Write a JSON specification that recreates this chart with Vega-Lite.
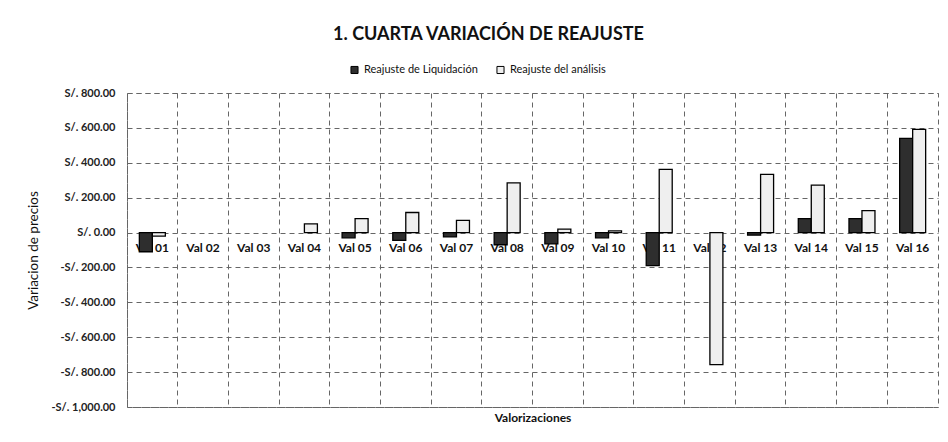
{
  "$schema": "https://vega.github.io/schema/vega-lite/v6.json",
  "width": 811,
  "height": 314,
  "autosize": {"type": "none"},
  "padding": {"left": 127, "top": 93, "right": 10, "bottom": 35},
  "background": "white",
  "title": {
    "text": "1. CUARTA VARIACIÓN  DE REAJUSTE",
    "font": "Lato",
    "fontSize": 18,
    "fontWeight": "bold",
    "color": "#111",
    "anchor": "middle",
    "frame": "group",
    "dx": -44,
    "offset": 20
  },
  "data": {
    "values": [
      {"val": "Val 01", "serie": "Reajuste de Liquidación", "monto": -110},
      {"val": "Val 01", "serie": "Reajuste del análisis", "monto": -20},
      {"val": "Val 02", "serie": "Reajuste de Liquidación", "monto": 0},
      {"val": "Val 02", "serie": "Reajuste del análisis", "monto": 0},
      {"val": "Val 03", "serie": "Reajuste de Liquidación", "monto": 0},
      {"val": "Val 03", "serie": "Reajuste del análisis", "monto": 0},
      {"val": "Val 04", "serie": "Reajuste de Liquidación", "monto": 0},
      {"val": "Val 04", "serie": "Reajuste del análisis", "monto": 50},
      {"val": "Val 05", "serie": "Reajuste de Liquidación", "monto": -30},
      {"val": "Val 05", "serie": "Reajuste del análisis", "monto": 80},
      {"val": "Val 06", "serie": "Reajuste de Liquidación", "monto": -45},
      {"val": "Val 06", "serie": "Reajuste del análisis", "monto": 115},
      {"val": "Val 07", "serie": "Reajuste de Liquidación", "monto": -25},
      {"val": "Val 07", "serie": "Reajuste del análisis", "monto": 70},
      {"val": "Val 08", "serie": "Reajuste de Liquidación", "monto": -70},
      {"val": "Val 08", "serie": "Reajuste del análisis", "monto": 285},
      {"val": "Val 09", "serie": "Reajuste de Liquidación", "monto": -65},
      {"val": "Val 09", "serie": "Reajuste del análisis", "monto": 20},
      {"val": "Val 10", "serie": "Reajuste de Liquidación", "monto": -30},
      {"val": "Val 10", "serie": "Reajuste del análisis", "monto": 10},
      {"val": "Val 11", "serie": "Reajuste de Liquidación", "monto": -190},
      {"val": "Val 11", "serie": "Reajuste del análisis", "monto": 362},
      {"val": "Val 12", "serie": "Reajuste de Liquidación", "monto": 0},
      {"val": "Val 12", "serie": "Reajuste del análisis", "monto": -757},
      {"val": "Val 13", "serie": "Reajuste de Liquidación", "monto": -15},
      {"val": "Val 13", "serie": "Reajuste del análisis", "monto": 333},
      {"val": "Val 14", "serie": "Reajuste de Liquidación", "monto": 80},
      {"val": "Val 14", "serie": "Reajuste del análisis", "monto": 272},
      {"val": "Val 15", "serie": "Reajuste de Liquidación", "monto": 80},
      {"val": "Val 15", "serie": "Reajuste del análisis", "monto": 126},
      {"val": "Val 16", "serie": "Reajuste de Liquidación", "monto": 540},
      {"val": "Val 16", "serie": "Reajuste del análisis", "monto": 592}
    ]
  },
  "encoding": {
    "x": {
      "field": "val",
      "type": "nominal",
      "scale": {"paddingInner": 0, "paddingOuter": 0},
      "axis": {
        "title": "Valorizaciones",
        "titleFont": "Lato",
        "titleFontSize": 12,
        "titleFontWeight": "bold",
        "titleColor": "#111",
        "titlePadding": 5,
        "labels": false,
        "ticks": false,
        "domain": false,
        "grid": true,
        "bandPosition": 0,
        "gridColor": "#666",
        "gridDash": [5, 4],
        "gridWidth": 1
      }
    }
  },
  "layer": [
    {
      "transform": [{"filter": "datum.serie === 'Reajuste de Liquidación'"}],
      "mark": {"type": "text", "font": "Lato", "fontSize": 12, "fontWeight": "bold", "color": "#111", "dy": 15},
      "encoding": {
        "y": {
          "datum": 0,
          "type": "quantitative",
          "scale": {"domain": [-1000, 800], "nice": false},
          "axis": {
            "title": "Variacion de precios",
            "titleFont": "Lato",
            "titleFontSize": 13.5,
            "titleFontWeight": "normal",
            "titleColor": "#111",
            "titlePadding": 10,
            "values": [-1000, -800, -600, -400, -200, 0, 200, 400, 600, 800],
            "labelExpr": "(datum.value < 0 ? '-' : '') + 'S/. ' + format(abs(datum.value), ',.2f')",
            "labelOverlap": false,
            "labelFont": "Lato",
            "labelFontSize": 11,
            "labelFontWeight": "bold",
            "labelColor": "#222",
            "labelPadding": 12,
            "ticks": false,
            "domain": false,
            "grid": true,
            "gridColor": "#666",
            "gridDash": [5, 4],
            "gridWidth": 1
          }
        },
        "text": {"field": "val"}
      }
    },
    {
      "mark": {"type": "bar", "stroke": "#000", "strokeWidth": 1.3},
      "encoding": {
        "xOffset": {
          "field": "serie",
          "sort": ["Reajuste de Liquidación", "Reajuste del análisis"],
          "scale": {"paddingInner": 0, "paddingOuter": 0.95}
        },
        "strokeOpacity": {
          "condition": {"test": "datum.monto === 0", "value": 0},
          "value": 1
        },
        "y": {
          "field": "monto",
          "type": "quantitative",
          "scale": {"domain": [-1000, 800], "nice": false},
          "axis": {
            "title": "Variacion de precios",
            "titleFont": "Lato",
            "titleFontSize": 13.5,
            "titleFontWeight": "normal",
            "titleColor": "#111",
            "titlePadding": 10,
            "values": [-1000, -800, -600, -400, -200, 0, 200, 400, 600, 800],
            "labelExpr": "(datum.value < 0 ? '-' : '') + 'S/. ' + format(abs(datum.value), ',.2f')",
            "labelOverlap": false,
            "labelFont": "Lato",
            "labelFontSize": 11,
            "labelFontWeight": "bold",
            "labelColor": "#222",
            "labelPadding": 12,
            "ticks": false,
            "domain": false,
            "grid": true,
            "gridColor": "#666",
            "gridDash": [5, 4],
            "gridWidth": 1
          }
        },
        "color": {
          "field": "serie",
          "type": "nominal",
          "scale": {
            "domain": ["Reajuste de Liquidación", "Reajuste del análisis"],
            "range": ["#2e2e2e", "#efefef"]
          },
          "legend": {
            "title": null,
            "orient": "none",
            "direction": "horizontal",
            "legendX": 222,
            "legendY": -29,
            "symbolType": "square",
            "symbolSize": 50,
            "symbolStrokeColor": "#000",
            "symbolStrokeWidth": 1,
            "labelFont": "Lato",
            "labelFontSize": 11,
            "labelColor": "#111",
            "columnPadding": 16
          }
        }
      }
    }
  ],
  "config": {
    "view": {"stroke": "#666", "strokeDash": [5, 4], "strokeWidth": 1}
  }
}
